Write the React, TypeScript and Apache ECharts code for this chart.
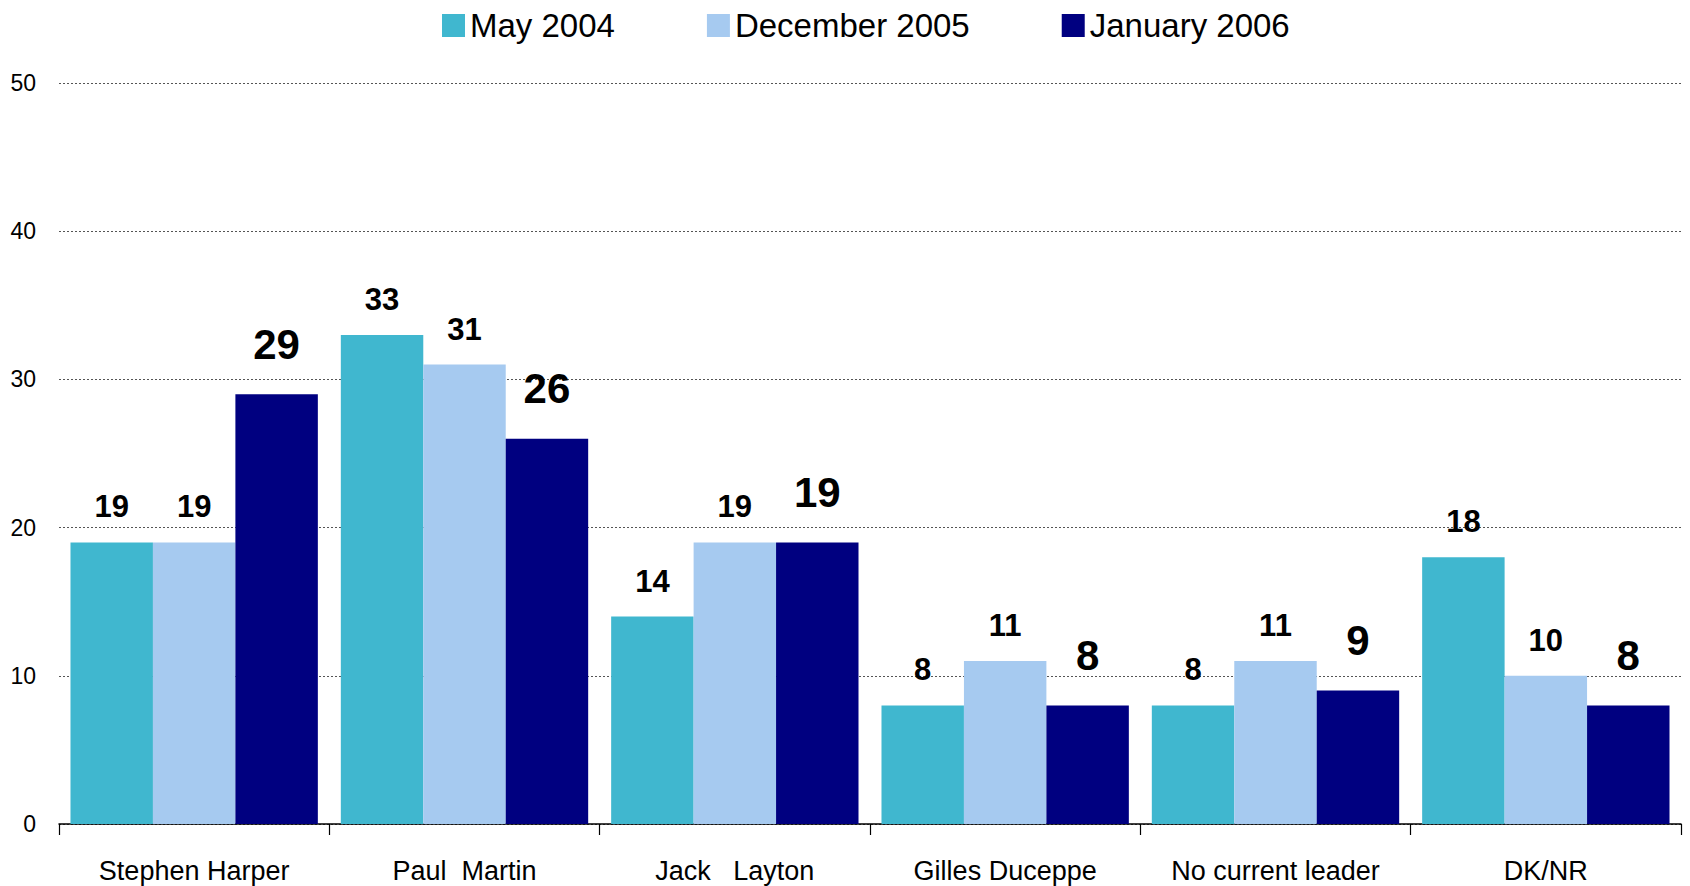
import React, { useEffect, useRef } from "react";
import * as echarts from "echarts";

const categories = ["Stephen Harper", "Paul  Martin", "Jack   Layton", "Gilles Duceppe", "No current leader", "DK/NR"];
const seriesNames = ["May 2004", "December 2005", "January 2006"];
const may2004 = [19, 33, 14, 8, 8, 18];
const dec2005 = [19, 31, 19, 11, 11, 10];
const jan2006 = [29, 26, 19, 8, 9, 8];
const yTicks = [0, 10, 20, 30, 40, 50];

const colors = ["#40B7CF", "#A6CAF0", "#000080"];
const FONT = "'Liberation Sans', Arial, sans-serif";

export default function App() {
  const ref = useRef<HTMLDivElement>(null);
  useEffect(() => {
    if (!ref.current) return;
    const chart = echarts.init(ref.current, null, { renderer: "svg" });
    const data = [may2004, dec2005, jan2006];
    chart.setOption({
      animation: false,
      backgroundColor: "#ffffff",
      textStyle: { fontFamily: FONT },
      legend: {
        left: 437,
        top: 4,
        itemWidth: 23,
        itemHeight: 23,
        itemGap: 92,
        icon: "rect",
        textStyle: { fontSize: 33, color: "#000", fontFamily: FONT },
        data: seriesNames,
      },
      grid: { left: 59, right: 9, top: 83, bottom: 62, containLabel: false },
      xAxis: {
        type: "category",
        data: categories,
        axisLine: { show: true, lineStyle: { color: "#000", width: 1.5 } },
        axisTick: { show: true, length: 11, alignWithLabel: false, lineStyle: { color: "#000", width: 1.2 } },
        axisLabel: { fontSize: 27, color: "#000", margin: 33, fontFamily: FONT, interval: 0 },
        splitLine: { show: false },
      },
      yAxis: {
        type: "value",
        min: yTicks[0],
        max: yTicks[yTicks.length - 1],
        interval: 10,
        axisLine: { show: false },
        axisTick: { show: false },
        axisLabel: { fontSize: 23, color: "#000", margin: 23, fontFamily: FONT },
        splitLine: { show: true, lineStyle: { color: "#555", type: [2, 2], width: 1 } },
      },
      series: seriesNames.map((name, i) => ({
        name,
        type: "bar",
        data: data[i],
        barGap: "0%",
        barCategoryGap: "8.5%",
        itemStyle: { color: colors[i] },
        label: {
          show: true,
          position: "top",
          distance: i === 2 ? 29 : 20,
          fontSize: i === 2 ? 42 : 31,
          fontWeight: "bold",
          color: "#000",
          fontFamily: FONT,
        },
      })),
    });
    return () => chart.dispose();
  }, []);
  return (
    <div
      ref={ref}
      style={{ position: "fixed", left: 0, top: 0, width: 1690, height: 886 }}
    />
  );
}
